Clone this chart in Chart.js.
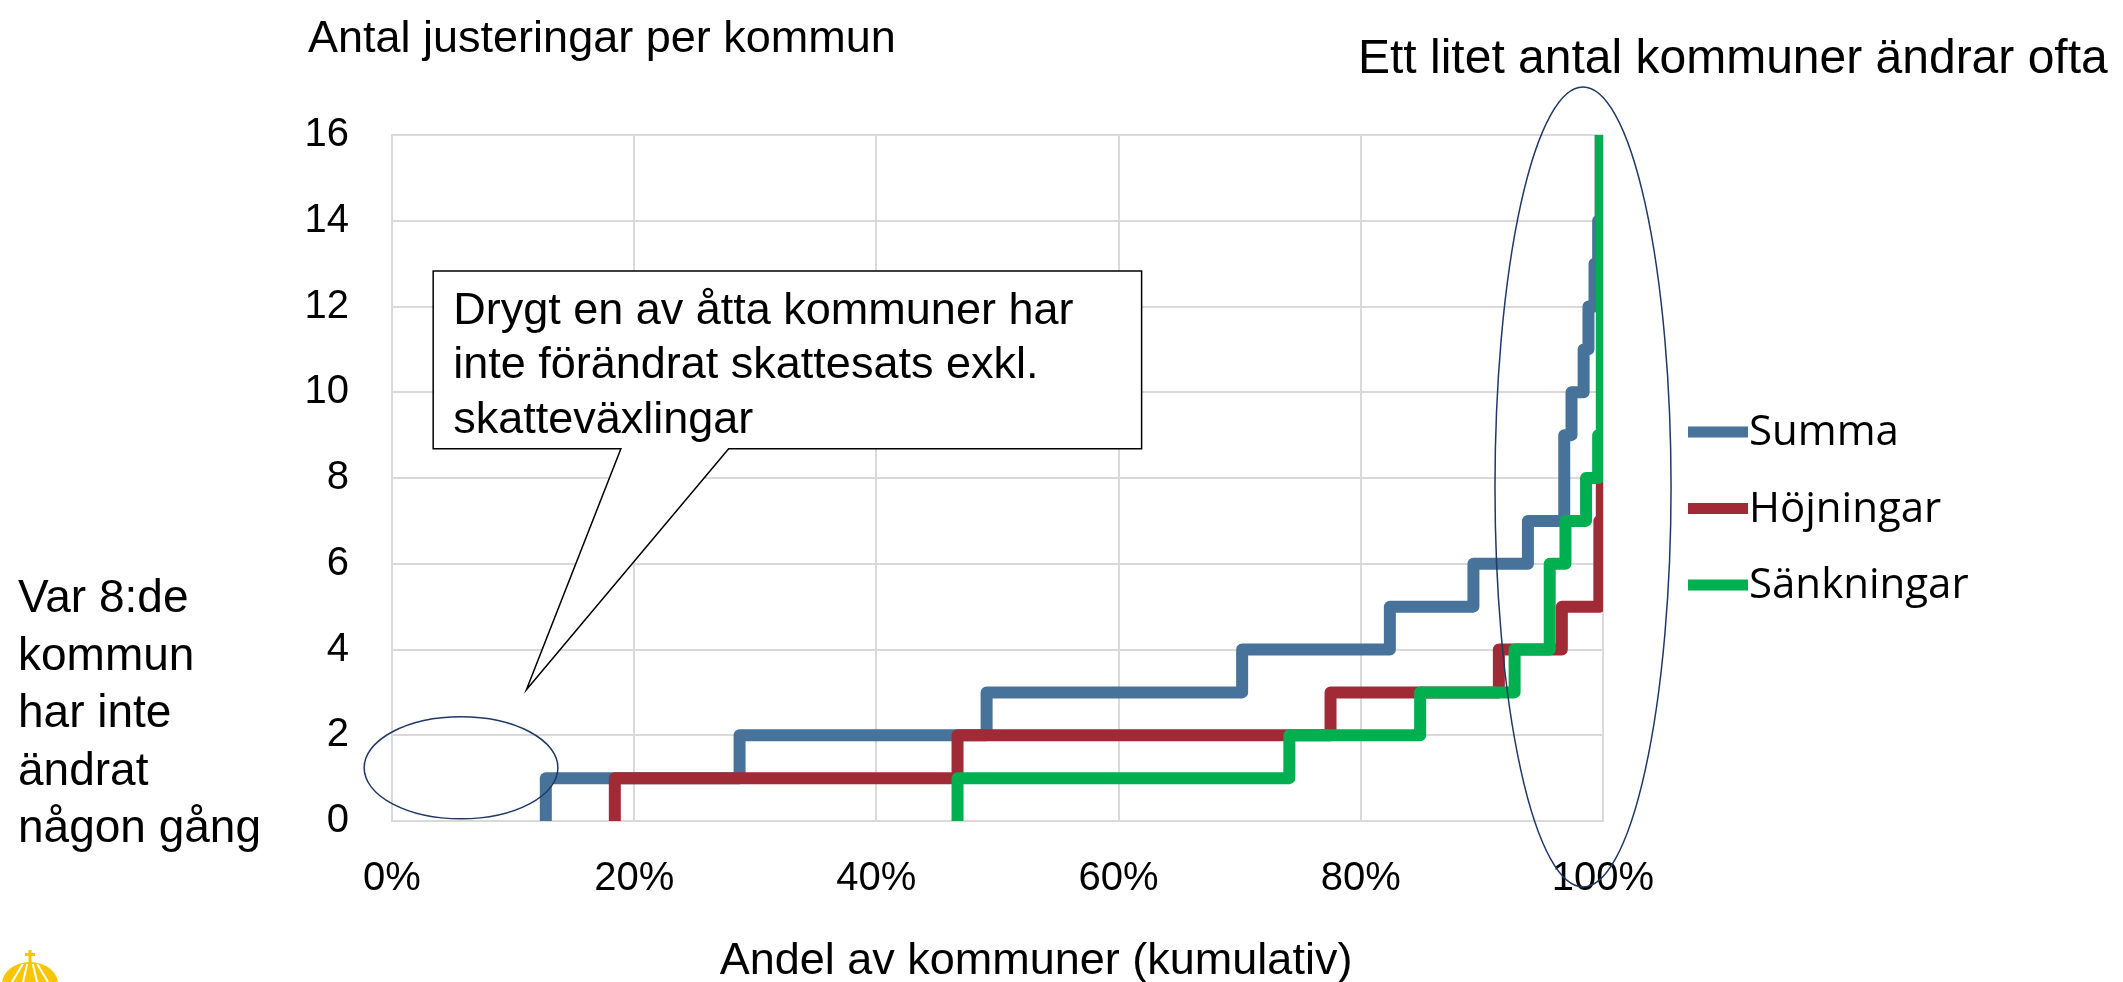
<!DOCTYPE html>
<html lang="sv">
<head>
<meta charset="utf-8">
<title>Antal justeringar per kommun</title>
<script src="https://cdn.jsdelivr.net/npm/chart.js@4.4.1/dist/chart.umd.min.js"></script>
<style>
  html, body { margin: 0; padding: 0; background: #ffffff; }
  #wrap { width: 2123px; height: 982px; }
</style>
</head>
<body>
<div id="wrap"><canvas id="justeringChart" width="2123" height="982"></canvas></div>
<script>
// Andel av kommuner (%, kumulativ) där antalet justeringar stiger till nästa nivå
const andelSumma = [12.7, 12.7, 28.7, 49.1, 70.2, 82.4, 89.3, 93.8, 96.8, 97.4, 98.4, 98.8, 99.3, 99.6, 99.8];
const antalSumma = [0, 1, 2, 3, 4, 5, 6, 7, 9, 10, 11, 12, 13, 14, 16];

const andelHojningar = [18.4, 18.4, 46.7, 77.5, 91.4, 96.6, 99.7, 99.9];
const antalHojningar = [0, 1, 2, 3, 4, 5, 7, 8];

const andelSankningar = [46.7, 46.7, 74.1, 84.9, 92.7, 95.6, 96.9, 98.6, 99.6, 99.9];
const antalSankningar = [0, 1, 2, 3, 4, 6, 7, 8, 9, 16];

const xTicks = [0, 20, 40, 60, 80, 100];
const yTicks = [0, 2, 4, 6, 8, 10, 12, 14, 16];

const serieNamn = ["Summa", "Höjningar", "Sänkningar"];

const BLUE = "#47729a";
const RED = "#a12a37";
const GREEN = "#00b050";
const GRID = "#d9d9d9";
const NAVY = "#1f3864";
const FONT = "'Liberation Sans', Arial, sans-serif";

function toPoints(xs, ys) {
    return xs.map((x, i) => ({ x: x, y: ys[i] }));
}

function stepLine(label, xs, ys, color, order) {
    return {
        label: label,
        data: toPoints(xs, ys),
        borderColor: color,
        backgroundColor: color,
        borderWidth: 12,
        stepped: "before",
        pointRadius: 0,
        pointHoverRadius: 0,
        borderJoinStyle: "round",
        borderCapStyle: "butt",
        fill: false,
        clip: 0,
        order: order
    };
}

/* ---------- texts, callout, ellipses, legend, logo ---------- */
const annotations = {
    id: "annotations",
    afterDraw(chart) {
        const ctx = chart.ctx;
        const sx = chart.scales.x;
        const sy = chart.scales.y;
        const px = v => sx.getPixelForValue(v);
        const py = v => sy.getPixelForValue(v);

        ctx.save();
        ctx.fillStyle = "#000";
        ctx.textAlign = "left";
        ctx.textBaseline = "alphabetic";

        ctx.font = "45px " + FONT;
        ctx.fillText("Antal justeringar per kommun", 308, 52);

        ctx.font = "48px " + FONT;
        ctx.fillText("Ett litet antal kommuner ändrar ofta", 1358, 73);

        ctx.font = "46px " + FONT;
        ["Var 8:de", "kommun", "har inte", "ändrat", "någon gång"].forEach((t, i) => {
            ctx.fillText(t, 18, 612 + i * 57.5);
        });

        ctx.textAlign = "center";
        ctx.font = "45px " + FONT;
        ctx.fillText("Andel av kommuner (kumulativ)", 1036, 974);

        // callout box with pointer
        const bl = px(3.4), br = px(61.9), bt = py(12.83), bb = py(8.68);
        ctx.beginPath();
        ctx.moveTo(bl, bt);
        ctx.lineTo(br, bt);
        ctx.lineTo(br, bb);
        ctx.lineTo(px(27.8), bb);
        ctx.lineTo(px(11.1), py(3.06));
        ctx.lineTo(px(18.9), bb);
        ctx.lineTo(bl, bb);
        ctx.closePath();
        ctx.fillStyle = "#fff";
        ctx.fill();
        ctx.lineWidth = 1.5;
        ctx.strokeStyle = "#000";
        ctx.stroke();

        ctx.fillStyle = "#000";
        ctx.textAlign = "left";
        ctx.font = "45px " + FONT;
        ["Drygt en av åtta kommuner har", "inte förändrat skattesats exkl.", "skatteväxlingar"].forEach((t, i) => {
            ctx.fillText(t, bl + 20, bt + 53 + i * 54.5);
        });

        // ellipses
        ctx.strokeStyle = NAVY;
        ctx.lineWidth = 1.5;
        ctx.beginPath();
        ctx.ellipse(px(5.7), py(1.24), px(8.0) - px(0), py(0) - py(1.19), 0, 0, Math.PI * 2);
        ctx.stroke();
        ctx.beginPath();
        ctx.ellipse(px(98.35), py(7.79), px(7.27) - px(0), py(0) - py(9.33), 0, 0, Math.PI * 2);
        ctx.stroke();

        // legend
        ctx.font = "42px 'Open Sans', 'Noto Sans', sans-serif";
        chart.data.datasets.forEach((ds, i) => {
            const base = 445 + i * 76.5;
            ctx.fillStyle = ds.borderColor;
            ctx.fillRect(1688, base - 18.5, 60, 11);
            ctx.fillStyle = "#000";
            ctx.fillText(ds.label, 1749, base);
        });

        // small crown logo, bottom left
        ctx.fillStyle = "#f7c600";
        ctx.beginPath();
        ctx.ellipse(30, 984, 28, 22, 0, Math.PI, 0);
        ctx.fill();
        ctx.fillRect(28.5, 950, 3, 13);
        ctx.fillRect(25, 953, 10, 3);
        ctx.strokeStyle = "#fff";
        ctx.lineWidth = 2;
        [-18, -7, 7, 18].forEach(d => {
            ctx.beginPath();
            ctx.moveTo(30 + d * 0.4, 964);
            ctx.lineTo(30 + d, 982);
            ctx.stroke();
        });
        ctx.restore();
    }
};

const ctx = document.getElementById("justeringChart");

new Chart(ctx, {
    type: "line",
    data: {
        datasets: [
            stepLine(serieNamn[0], andelSumma, antalSumma, BLUE, 2),
            stepLine(serieNamn[1], andelHojningar, antalHojningar, RED, 1),
            stepLine(serieNamn[2], andelSankningar, antalSankningar, GREEN, 0)
        ]
    },
    options: {
        responsive: false,
        animation: false,
        devicePixelRatio: 1,
        events: [],
        layout: { padding: { left: 0, top: 135, right: 520, bottom: 0 } },
        plugins: {
            legend: { display: false },
            tooltip: { enabled: false }
        },
        scales: {
            x: {
                type: "linear",
                min: 0,
                max: 100,
                afterBuildTicks: axis => { axis.ticks = xTicks.map(v => ({ value: v })); },
                afterFit: scale => { scale.height = 161; },
                ticks: {
                    color: "#000",
                    padding: 34,
                    maxRotation: 0,
                    autoSkip: false,
                    font: { family: FONT, size: 40 },
                    callback: v => v + "%"
                },
                grid: { color: GRID, lineWidth: 2, drawTicks: false },
                border: { color: GRID, width: 2 }
            },
            y: {
                min: 0,
                max: 16,
                afterBuildTicks: axis => { axis.ticks = yTicks.map(v => ({ value: v })); },
                afterFit: scale => { scale.width = 392; },
                ticks: {
                    color: "#000",
                    padding: 43,
                    autoSkip: false,
                    font: { family: FONT, size: 40 }
                },
                grid: { color: GRID, lineWidth: 2, drawTicks: false },
                border: { color: GRID, width: 2 }
            }
        }
    },
    plugins: [annotations]
});
</script>
</body>
</html>
